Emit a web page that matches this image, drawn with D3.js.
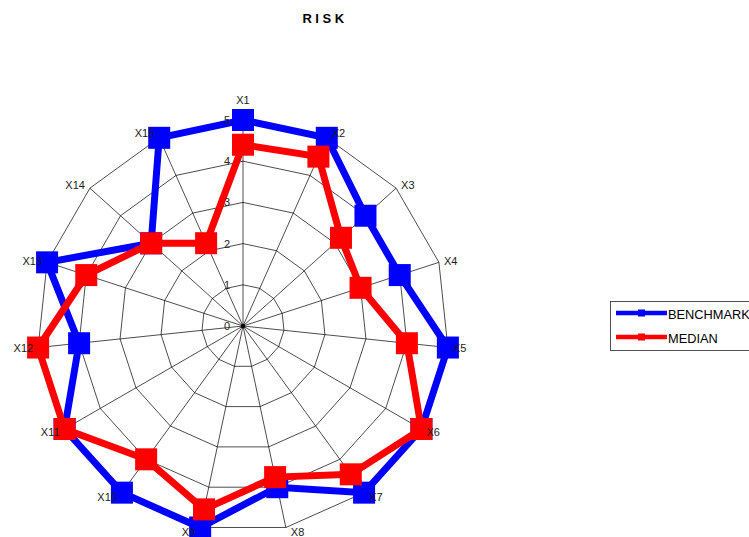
<!DOCTYPE html>
<html>
<head>
<meta charset="utf-8">
<script src="https://cdn.jsdelivr.net/npm/d3@7"></script>
<style>
  html, body { margin: 0; padding: 0; background: #fff; }
  svg { display: block; font-family: "Liberation Sans", Arial, sans-serif; }
</style>
</head>
<body>
<svg id="chart" width="749" height="537"></svg>
<script>
const axisLabels = ["X1","X2","X3","X4","X5","X6","X7","X8","X9","X10","X11","X12","X13","X14","X15"];
const benchmark = [5, 5, 4, 4, 5, 5, 5, 4, 5, 5, 5, 4, 5, 3, 5];
const median    = [4.4, 4.5, 3.2, 3, 4, 5, 4.45, 3.75, 4.55, 4, 5, 5, 4, 3, 2.2];
const tickValues = [0, 1, 2, 3, 4, 5];
const seriesNames = ["BENCHMARK", "MEDIAN"];
const seriesColors = ["#0000ff", "#ff0000"];
const titleText = "RISK";

const svg = d3.select("#chart");
const cx = 243, cy = 326, R = 206;

const rScale = d3.scaleLinear().domain([0, 5]).range([0, R]);
const aScale = d3.scaleLinear().domain([0, axisLabels.length]).range([0, 2 * Math.PI]);

function pt(i, v) {
  const a = aScale(i), r = rScale(v);
  return [cx + r * Math.sin(a), cy - r * Math.cos(a)];
}

const g = svg.append("g");

// web rings
const idx = d3.range(axisLabels.length);
tickValues.filter(t => t > 0).forEach(t => {
  g.append("path")
    .attr("d", d3.line()(idx.map(i => pt(i, t))) + "Z")
    .attr("fill", "none").attr("stroke", "#000").attr("stroke-width", 0.7);
});
// spokes
idx.forEach(i => {
  const [x, y] = pt(i, d3.max(tickValues));
  g.append("line").attr("x1", cx).attr("y1", cy).attr("x2", x).attr("y2", y)
    .attr("stroke", "#000").attr("stroke-width", 0.7);
});
g.append("circle").attr("cx", cx).attr("cy", cy).attr("r", 2.2).attr("fill", "#000");

// series
const series = [benchmark, median];
const line = d3.line();
series.forEach((vals, k) => {
  const pts = vals.map((v, i) => pt(i, v));
  g.append("path").attr("d", line(pts) + "Z")
    .attr("fill", "none").attr("stroke", seriesColors[k])
    .attr("stroke-width", 7).attr("stroke-linejoin", "miter");
  g.selectAll(null).data(pts).enter().append("rect")
    .attr("x", d => d[0] - 11).attr("y", d => d[1] - 11)
    .attr("width", 22).attr("height", 22)
    .attr("fill", seriesColors[k]);
});

// tick labels
tickValues.forEach(t => {
  g.append("text").attr("x", cx - 13).attr("y", cy - rScale(t))
    .attr("text-anchor", "end").attr("dominant-baseline", "central")
    .attr("font-size", 11).attr("fill", "#262626").text(t);
});

// axis labels
idx.forEach(i => {
  const a = aScale(i);
  const [x, y] = pt(i, d3.max(tickValues));
  const s = Math.sin(a), c = Math.cos(a);
  let anchor = "middle", tx = x, ty = y - 5 * c;
  if (s > 0.05) { anchor = "start"; tx = x + 5; }
  else if (s < -0.05) { anchor = "end"; tx = x - 5; }
  else { ty = y - 20 * c; }
  g.append("text").attr("x", tx).attr("y", ty)
    .attr("text-anchor", anchor).attr("dominant-baseline", "central")
    .attr("font-size", 11).attr("fill", "#1a1a1a").text(axisLabels[i]);
});

// title
svg.append("text").attr("x", 325).attr("y", 18)
  .attr("text-anchor", "middle").attr("dominant-baseline", "central")
  .attr("font-size", 13).attr("font-weight", "bold")
  .attr("letter-spacing", 3.5).attr("fill", "#000").text(titleText);

// legend
const lg = svg.append("g");
lg.append("rect").attr("x", 610.5).attr("y", 301.5).attr("width", 160).attr("height", 49)
  .attr("fill", "#fff").attr("stroke", "#262626").attr("stroke-width", 0.8);
seriesNames.forEach((name, k) => {
  const y = 313 + k * 24;
  lg.append("line").attr("x1", 616).attr("x2", 667).attr("y1", y).attr("y2", y)
    .attr("stroke", seriesColors[k]).attr("stroke-width", 4.5);
  lg.append("rect").attr("x", 638).attr("y", y - 3.5).attr("width", 7).attr("height", 7)
    .attr("fill", seriesColors[k]);
  lg.append("text").attr("x", 668).attr("y", y + 1)
    .attr("dominant-baseline", "central").attr("font-size", 12.8)
    .attr("fill", "#000").text(name);
});
</script>
</body>
</html>
